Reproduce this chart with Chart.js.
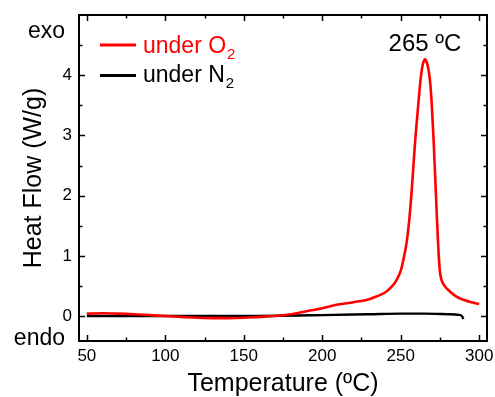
<!DOCTYPE html>
<html>
<head>
<meta charset="utf-8">
<script src="https://cdn.jsdelivr.net/npm/chart.js@4/dist/chart.umd.min.js"></script>
<style>
  html, body { margin: 0; padding: 0; background: #fff; }
  #wrap { width: 495px; height: 397px; }
</style>
</head>
<body>
<div id="wrap"><canvas id="c" width="495" height="397"></canvas></div>
<script>
// ---- data ----
const o2Temp = [50,60,70,80,90,100,110,120,130,140,150,160,170,180,190,200,210,220,230,235,240,244,247,250,251,252,253,254,255,256,257,258,259,260,261,262,263,264,265,265.5,266,267,268,269,270,271,272,273,274,275,276,278,280,285,290,295,300];
const o2Flow = [0.04,0.045,0.04,0.03,0.015,0.0,-0.015,-0.03,-0.035,-0.035,-0.03,-0.015,0.0,0.03,0.08,0.13,0.19,0.23,0.28,0.33,0.39,0.48,0.58,0.75,0.85,0.97,1.1,1.26,1.48,1.75,2.08,2.45,2.83,3.15,3.45,3.75,4.0,4.17,4.25,4.27,4.25,4.18,4.05,3.82,3.42,2.9,2.3,1.68,1.12,0.74,0.6,0.5,0.44,0.33,0.27,0.23,0.2];
const n2Temp = [50,100,150,200,230,250,265,280,287,289,290];
const n2Flow = [0.0,0.0,0.0,0.015,0.03,0.04,0.04,0.03,0.02,0.0,-0.05];
const xTicks = [50,100,150,200,250,300];
const xMinorTicks = [75,125,175,225,275];
const yTicks = [0,1,2,3,4];
const yMinorTicks = [0.5,1.5,2.5,3.5,4.5];
const seriesNames = ['under O', 'under N'];
const seriesSub = ['2', '2'];
const xTitle = 'Temperature (ºC)';
const yTitle = 'Heat Flow (W/g)';
const peakTemp = 265.5;
const peakLabel = '265 ºC';
const exoLabel = 'exo';
const endoLabel = 'endo';

const FONT = "'Liberation Sans', Arial, sans-serif";
const RED = '#ff0000';

const decor = {
  id: 'decor',
  afterDraw(chart) {
    const ctx = chart.ctx;
    const a = chart.chartArea;
    const x = chart.scales.x, y = chart.scales.y;
    ctx.save();
    ctx.strokeStyle = '#000';
    ctx.lineWidth = 2;
    ctx.strokeRect(a.left, a.top, a.right - a.left, a.bottom - a.top);
    ctx.lineWidth = 1.5;
    const seg = (x1, y1, x2, y2) => { ctx.beginPath(); ctx.moveTo(x1, y1); ctx.lineTo(x2, y2); ctx.stroke(); };
    xTicks.forEach(v => { const p = Math.round(x.getPixelForValue(v)) + 0.5; seg(p, a.bottom, p, a.bottom - 6); seg(p, a.top, p, a.top + 6); });
    xMinorTicks.forEach(v => { const p = Math.round(x.getPixelForValue(v)) + 0.5; seg(p, a.bottom, p, a.bottom - 3.5); seg(p, a.top, p, a.top + 3.5); });
    yTicks.forEach(v => { const p = Math.round(y.getPixelForValue(v)) + 0.5; seg(a.left, p, a.left + 6, p); seg(a.right, p, a.right - 6, p); });
    yMinorTicks.forEach(v => { const p = Math.round(y.getPixelForValue(v)) + 0.5; seg(a.left, p, a.left + 3.5, p); seg(a.right, p, a.right - 3.5, p); });

    // legend
    const colors = [RED, '#000'];
    const rowY = [45, 75.5];
    const baseY = [52.5, 82];
    ctx.lineWidth = 3;
    ctx.textAlign = 'left';
    ctx.textBaseline = 'alphabetic';
    for (let i = 0; i < 2; i++) {
      ctx.strokeStyle = colors[i];
      seg(100, rowY[i], 136, rowY[i]);
      ctx.fillStyle = colors[i];
      ctx.font = '23px ' + FONT;
      ctx.fillText(seriesNames[i], 143, baseY[i]);
      const w = ctx.measureText(seriesNames[i]).width;
      ctx.font = '15px ' + FONT;
      ctx.fillText(seriesSub[i], 143 + w + 1, baseY[i] + 6);
    }

    // peak label
    ctx.fillStyle = '#000';
    ctx.font = '24px ' + FONT;
    ctx.textAlign = 'center';
    ctx.fillText(peakLabel, x.getPixelForValue(peakTemp), 51);

    // exo / endo
    ctx.font = '23px ' + FONT;
    ctx.textAlign = 'right';
    ctx.fillText(exoLabel, 65, 37.5);
    ctx.fillText(endoLabel, 65, 345);
    ctx.restore();
  }
};

new Chart(document.getElementById('c'), {
  type: 'line',
  data: {
    datasets: [
      {
        label: 'under O2',
        data: o2Temp.map((t, i) => ({ x: t, y: o2Flow[i] })),
        borderColor: RED,
        borderWidth: 2.6,
        pointRadius: 0,
        cubicInterpolationMode: 'monotone',
        fill: false
      },
      {
        label: 'under N2',
        data: n2Temp.map((t, i) => ({ x: t, y: n2Flow[i] })),
        borderColor: '#000',
        borderWidth: 2.4,
        pointRadius: 0,
        cubicInterpolationMode: 'monotone',
        fill: false
      }
    ]
  },
  options: {
    responsive: false,
    animation: false,
    devicePixelRatio: 1,
    layout: { padding: { top: 15, right: 8, left: 0, bottom: 0 } },
    plugins: { legend: { display: false }, tooltip: { enabled: false } },
    scales: {
      x: {
        type: 'linear',
        min: 45, max: 305,
        afterBuildTicks: s => { s.ticks = xTicks.map(v => ({ value: v })); },
        afterFit: s => { s.height = 56; s.paddingLeft = 0; s.paddingRight = 0; },
        grid: { display: false, drawTicks: false },
        border: { display: false },
        ticks: { includeBounds: false, padding: 5, color: '#000', font: { family: FONT, size: 17 }, maxRotation: 0 },
        title: { display: true, text: xTitle, color: '#000', font: { family: FONT, size: 25, lineHeight: 1 }, padding: { top: 0, bottom: 0 } }
      },
      y: {
        type: 'linear',
        min: -0.415, max: 5.0,
        afterBuildTicks: s => { s.ticks = yTicks.map(v => ({ value: v })); },
        afterFit: s => { s.width = 79; s.paddingTop = 0; s.paddingBottom = 0; },
        grid: { display: false, drawTicks: false },
        border: { display: false },
        ticks: { includeBounds: false, padding: 7, color: '#000', font: { family: FONT, size: 17 } },
        title: { display: true, text: yTitle, color: '#000', font: { family: FONT, size: 25, lineHeight: 1 }, padding: { top: 22, bottom: 0 } }
      }
    }
  },
  plugins: [decor]
});
</script>
</body>
</html>
